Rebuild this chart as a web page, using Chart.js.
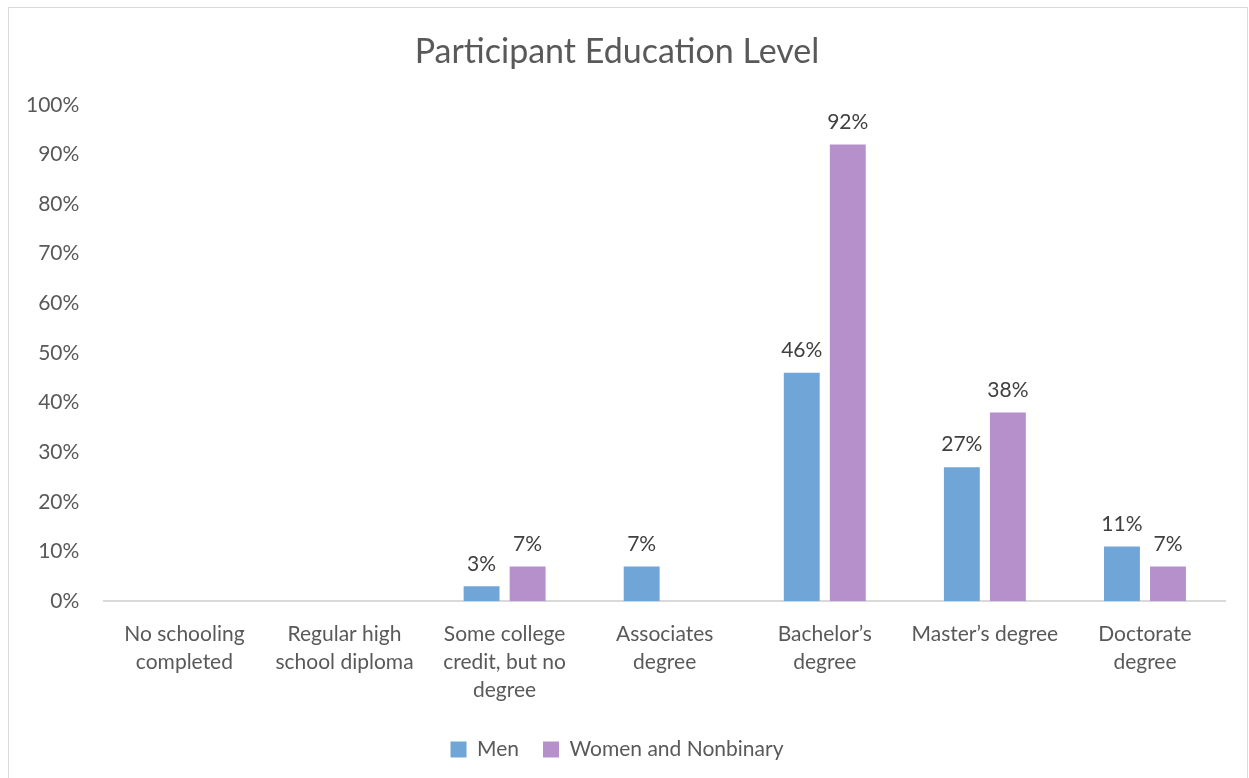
<!DOCTYPE html>
<html>
<head>
<meta charset="utf-8">
<script src="https://cdn.jsdelivr.net/npm/chart.js@4"></script>
<style>
  body { margin: 0; background: #fff; }
  #wrap { position: absolute; left: 8px; top: 7px; width: 1240px; height: 772px; border: 1px solid #d9d9d9; box-sizing: border-box; }
</style>
</head>
<body>
<div id="wrap"><canvas id="eduChart"></canvas></div>
<script>
var categories = [
    ['No schooling', 'completed'],
    ['Regular high', 'school diploma'],
    ['Some college', 'credit, but no', 'degree'],
    ['Associates', 'degree'],
    ['Bachelor\u2019s', 'degree'],
    ['Master\u2019s degree'],
    ['Doctorate', 'degree']
];
var men = [null, null, 3, 7, 46, 27, 11];
var women = [null, null, 7, null, 92, 38, 7];
var yTicks = [0, 10, 20, 30, 40, 50, 60, 70, 80, 90, 100];

var fontFamily = 'Lato, "Open Sans", sans-serif';
var textColor = '#595959';

// draws the % labels above each bar
var barLabels = {
    id: 'barLabels',
    afterDatasetsDraw: function(chart) {
        var ctx = chart.ctx;
        ctx.save();
        ctx.font = '21px ' + fontFamily;
        ctx.fillStyle = '#404040';
        ctx.textAlign = 'center';
        ctx.textBaseline = 'bottom';
        chart.data.datasets.forEach(function(ds, i) {
            var meta = chart.getDatasetMeta(i);
            meta.data.forEach(function(bar, j) {
                var v = ds.data[j];
                if (v === null || v === undefined) return;
                ctx.fillText(v + '%', bar.x, bar.y - 12);
            });
        });
        ctx.restore();
    }
};

var ctx = document.getElementById('eduChart').getContext('2d');
var eduChart = new Chart(ctx, {
    type: 'bar',
    data: {
        labels: categories,
        datasets: [{
            label: 'Men',
            data: men,
            backgroundColor: '#70A5D7',
            categoryPercentage: 0.575,
            barPercentage: 0.78
        }, {
            label: 'Women and Nonbinary',
            data: women,
            backgroundColor: '#B590CB',
            categoryPercentage: 0.575,
            barPercentage: 0.78
        }]
    },
    options: {
        responsive: true,
        maintainAspectRatio: false,
        animation: false,
        layout: {
            padding: { left: 0, right: 22, top: 0, bottom: 8 }
        },
        scales: {
            x: {
                grid: { display: false },
                border: { display: true, color: '#d9d9d9', width: 2 },
                ticks: {
                    color: textColor,
                    font: { size: 21, family: fontFamily, lineHeight: 1.33 },
                    maxRotation: 0,
                    autoSkip: false,
                    padding: 11
                }
            },
            y: {
                min: 0,
                max: 100,
                afterBuildTicks: function(scale) {
                    scale.ticks = yTicks.map(function(v) { return { value: v }; });
                },
                grid: { display: false },
                border: { display: false },
                ticks: {
                    color: textColor,
                    font: { size: 21, family: fontFamily },
                    padding: 17,
                    callback: function(v) { return v + '%'; }
                }
            }
        },
        plugins: {
            title: {
                display: true,
                text: 'Participant Education Level',
                color: textColor,
                font: { size: 34, family: fontFamily, weight: 'normal' },
                padding: { top: 24, bottom: 32 }
            },
            legend: {
                position: 'bottom',
                labels: {
                    color: textColor,
                    font: { size: 21, family: fontFamily },
                    boxWidth: 16,
                    boxHeight: 16,
                    padding: 24
                }
            },
            tooltip: { enabled: false }
        }
    },
    plugins: [barLabels]
});
</script>
</body>
</html>
